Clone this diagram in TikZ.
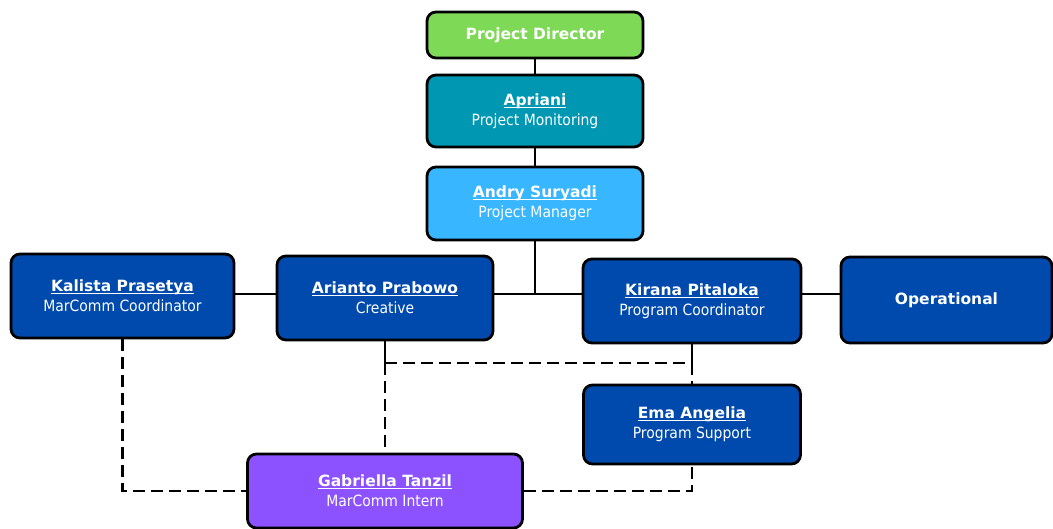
\documentclass[tikz,border=0pt]{standalone}
\usepackage{fontspec}
\setmainfont{DejaVu Sans}
\newfontfamily\condfont{DejaVu Sans Condensed}
\definecolor{pdgreen}{HTML}{7ED957}
\definecolor{apteal}{HTML}{0097B2}
\definecolor{lblue}{HTML}{38B6FF}
\definecolor{dblue}{HTML}{004AAD}
\definecolor{purp}{HTML}{8C52FF}
\newcommand{\uname}[1]{\setbox0\hbox{\bfseries #1}\rlap{\rule[-2.6pt]{\wd0}{1.3pt}}\box0}
\begin{document}
\begin{tikzpicture}[x=1pt,y=-1pt,
  box/.style={draw=black, line width=2.8pt, rounded corners=9pt, text=white,
    align=center, font=\fontsize{15.5}{20}\selectfont, inner sep=0pt},
  link/.style={line width=2.8pt, draw=black},
  dlink/.style={line width=2.8pt, draw=black, dash pattern=on 12pt off 6pt}]
\useasboundingbox (0,0) rectangle (1053,528);

\node[box, fill=pdgreen, minimum width=216pt, minimum height=46pt] (pd) at (535,35) {\bfseries Project Director};
\node[box, fill=apteal, minimum width=216pt, minimum height=72pt] (ap) at (535,111) {\uname{Apriani}\\{\condfont Project Monitoring}};
\node[box, fill=lblue, minimum width=216pt, minimum height=73pt] (as) at (535,203.5) {\uname{Andry Suryadi}\\{\condfont Project Manager}};
\node[box, fill=dblue, minimum width=223pt, minimum height=84pt] (kp) at (122.5,296) {\uname{Kalista Prasetya}\\{\condfont MarComm Coordinator}};
\node[box, fill=dblue, minimum width=216pt, minimum height=84pt] (ar) at (385,298) {\uname{Arianto Prabowo}\\{\condfont Creative}};
\node[box, fill=dblue, minimum width=218pt, minimum height=84pt] (ki) at (692,301) {\uname{Kirana Pitaloka}\\{\condfont Program Coordinator}};
\node[box, fill=dblue, minimum width=211pt, minimum height=86pt] (op) at (946.5,300) {\bfseries Operational};
\node[box, fill=dblue, minimum width=217pt, minimum height=79pt] (em) at (692,424.5) {\uname{Ema Angelia}\\{\condfont Program Support}};
\node[box, fill=purp, minimum width=275pt, minimum height=74pt] (gt) at (385,491) {\uname{Gabriella Tanzil}\\{\condfont MarComm Intern}};

\coordinate (j) at (535,294);
\coordinate (d) at (385,363);

\draw[link] (pd) -- (ap);
\draw[link] (ap) -- (as);
\draw[link] (as) -- (j);
\draw[link] (ar.east |- j) -- (ki.west |- j);
\draw[link] (kp.east |- j) -- (ar.west |- j);
\draw[link] (ki.east |- j) -- (op.west |- j);
\draw[link] (ar.south) -- (d);
\draw[link] (ki.south) -- (ki.south |- d);
\draw[dlink] (d) -- (ki.south |- d);
\draw[dlink] (d) -- (gt.north);
\draw[dlink] (ki.south |- d) -- (em.north);
\draw[dlink] (kp.south) |- (gt.west);
\draw[dlink] (gt.east) -| (em.south);
\end{tikzpicture}
\end{document}
